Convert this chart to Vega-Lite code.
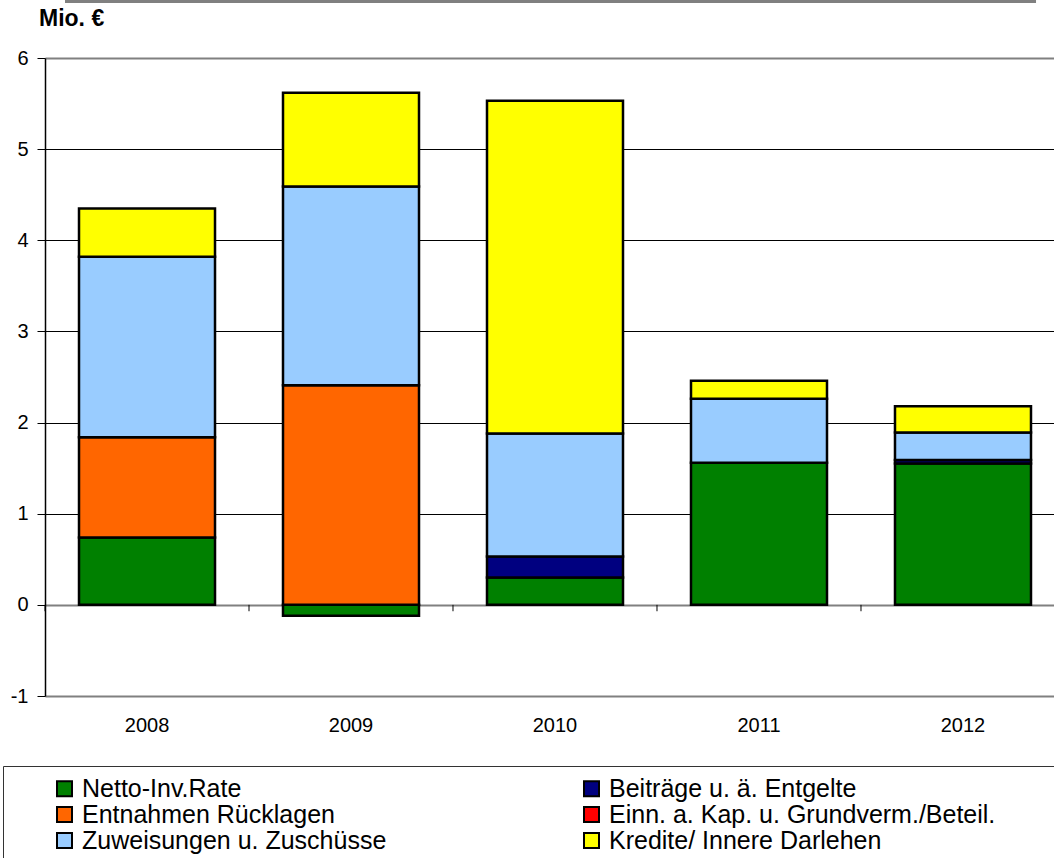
{
  "$schema": "https://vega.github.io/schema/vega-lite/v6.json",
  "width": 1020,
  "height": 638,
  "autosize": {"type": "none"},
  "padding": {"left": 45, "top": 58, "right": 0, "bottom": 162},
  "background": "white",
  "config": {
    "view": {"stroke": null},
    "font": "Liberation Sans",
    "axis": {"labelFont": "Liberation Sans", "labelColor": "black"},
    "legend": {"labelFont": "Liberation Sans"}
  },
  "title": {
    "text": "Mio. €",
    "anchor": "start",
    "frame": "group",
    "font": "Liberation Sans",
    "fontSize": 23,
    "fontWeight": "bold",
    "color": "black",
    "dx": -6,
    "offset": 0,
    "dy": 31
  },
  "datasets": {
    "bars": [
      {"year": "2008", "cat": "Netto-Inv.Rate", "o": 1, "value": 0.74},
      {"year": "2008", "cat": "Entnahmen Rücklagen", "o": 2, "value": 1.10},
      {"year": "2008", "cat": "Zuweisungen u. Zuschüsse", "o": 5, "value": 1.98},
      {"year": "2008", "cat": "Kredite/ Innere Darlehen", "o": 6, "value": 0.53},
      {"year": "2009", "cat": "Netto-Inv.Rate", "o": 1, "value": -0.12},
      {"year": "2009", "cat": "Entnahmen Rücklagen", "o": 2, "value": 2.41},
      {"year": "2009", "cat": "Zuweisungen u. Zuschüsse", "o": 5, "value": 2.18},
      {"year": "2009", "cat": "Kredite/ Innere Darlehen", "o": 6, "value": 1.03},
      {"year": "2010", "cat": "Netto-Inv.Rate", "o": 1, "value": 0.30},
      {"year": "2010", "cat": "Beiträge u. ä. Entgelte", "o": 3, "value": 0.23},
      {"year": "2010", "cat": "Zuweisungen u. Zuschüsse", "o": 5, "value": 1.35},
      {"year": "2010", "cat": "Kredite/ Innere Darlehen", "o": 6, "value": 3.65},
      {"year": "2011", "cat": "Netto-Inv.Rate", "o": 1, "value": 1.56},
      {"year": "2011", "cat": "Zuweisungen u. Zuschüsse", "o": 5, "value": 0.70},
      {"year": "2011", "cat": "Kredite/ Innere Darlehen", "o": 6, "value": 0.20},
      {"year": "2012", "cat": "Netto-Inv.Rate", "o": 1, "value": 1.55},
      {"year": "2012", "cat": "Beiträge u. ä. Entgelte", "o": 3, "value": 0.04},
      {"year": "2012", "cat": "Zuweisungen u. Zuschüsse", "o": 5, "value": 0.30},
      {"year": "2012", "cat": "Kredite/ Innere Darlehen", "o": 6, "value": 0.29}
    ],
    "years": [
      {"year": "2008"}, {"year": "2009"}, {"year": "2010"}, {"year": "2011"}, {"year": "2012"}
    ]
  },
  "layer": [
    {
      "data": {"name": "bars"},
      "mark": {"type": "bar", "stroke": "black", "strokeWidth": 2.5},
      "encoding": {
        "x": {
          "field": "year",
          "type": "ordinal",
          "scale": {"paddingInner": 0.3333, "paddingOuter": 0.1667},
          "axis": {
            "title": null,
            "labelAngle": 0,
            "labelFontSize": 20,
            "ticks": false,
            "domain": false,
            "labelPadding": 19
          }
        },
        "y": {
          "field": "value",
          "type": "quantitative",
          "stack": "zero",
          "scale": {"domain": [-1, 6], "nice": false, "zero": false},
          "axis": {
            "title": null,
            "values": [-1, 0, 1, 2, 3, 4, 5, 6],
            "labelExpr": "'' + datum.value",
            "labelFontSize": 20,
            "labelPadding": 9,
            "tickSize": 8,
            "tickColor": "black",
            "domainColor": "black",
            "domainWidth": 1.5,
            "grid": true,
            "gridColor": {"condition": {"test": "datum.value == 0 || datum.value == 6 || datum.value == -1", "value": "#808080"}, "value": "black"},
            "gridWidth": {"condition": {"test": "datum.value == 0 || datum.value == 6 || datum.value == -1", "value": 2}, "value": 1},
            "gridOpacity": 1
          }
        },
        "order": {"field": "o", "type": "quantitative"},
        "color": {
          "field": "cat",
          "type": "nominal",
          "scale": {
            "domain": ["Netto-Inv.Rate", "Entnahmen Rücklagen", "Zuweisungen u. Zuschüsse", "Beiträge u. ä. Entgelte", "Einn. a. Kap. u. Grundverm./Beteil.", "Kredite/ Innere Darlehen"],
            "range": ["#008000", "#FF6600", "#99CCFF", "#000080", "#FF0000", "#FFFF00"]
          },
          "legend": {
            "orient": "none",
            "legendX": -42,
            "legendY": 708,
            "columns": 2,
            "title": " ",
            "titleOrient": "right",
            "titleFontSize": 10,
            "titlePadding": 60,
            "padding": 10,
            "strokeColor": "#333333",
            "symbolType": "square",
            "symbolSize": 225,
            "symbolStrokeColor": "black",
            "symbolStrokeWidth": 2,
            "symbolOpacity": 1,
            "symbolOffset": 39,
            "labelFontSize": 25,
            "labelColor": "black",
            "labelLimit": 700,
            "labelOffset": 5,
            "columnPadding": 153,
            "rowPadding": -2.5
          }
        }
      }
    },
    {
      "data": {"name": "years"},
      "mark": {"type": "rule", "color": "black", "strokeWidth": 1},
      "encoding": {
        "x": {"field": "year", "type": "ordinal", "bandPosition": -0.25},
        "y": {"datum": 0},
        "y2": {"datum": -0.07}
      }
    },
    {
      "data": {"values": [{}]},
      "mark": {"type": "rule", "color": "#808080", "strokeWidth": 3},
      "encoding": {
        "x": {"datum": "2008", "type": "ordinal", "bandPosition": -0.103},
        "x2": {"datum": "2012", "bandPosition": 1.037},
        "y": {"datum": 6.62}
      }
    }
  ]
}
